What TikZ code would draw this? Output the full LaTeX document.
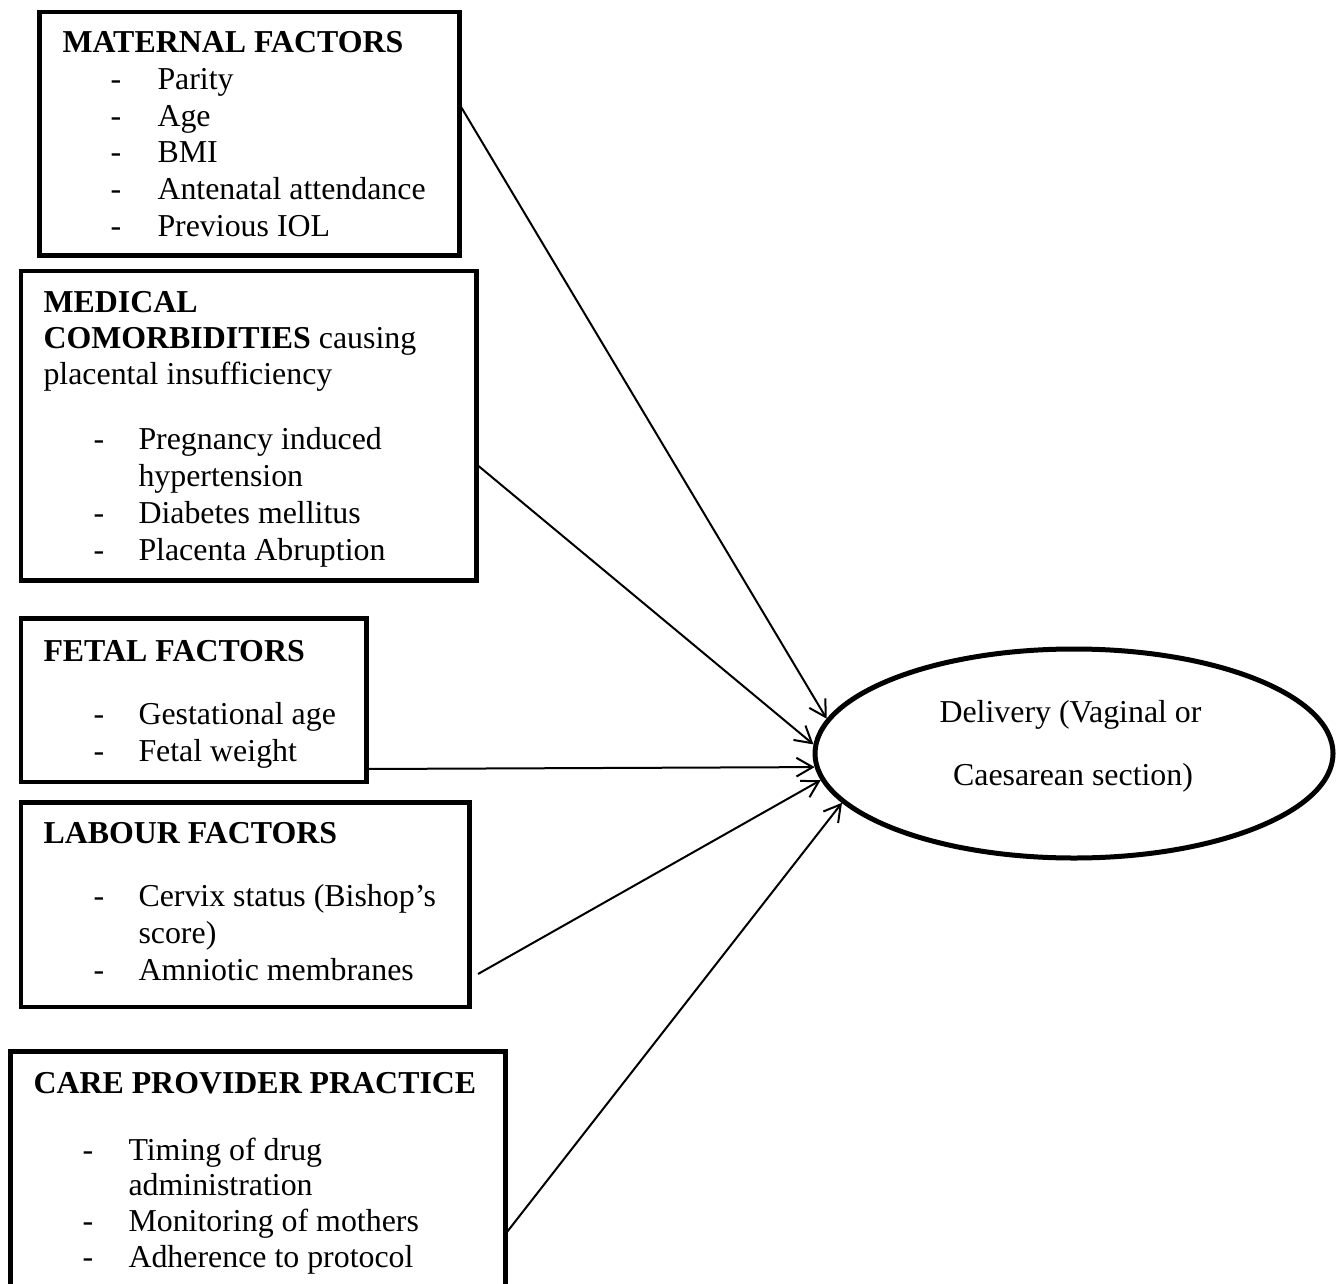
\documentclass[tikz,border=0pt]{standalone}
\usepackage{fontspec}
\setmainfont{Liberation Serif}
\usetikzlibrary{arrows.meta,calc,shapes.geometric}
\begin{document}
\begin{tikzpicture}[x=0.4pt,y=-0.4pt,
  box/.style={draw,line width=1.8pt,rectangle,inner sep=0pt,outer sep=0pt,anchor=north west},
  txt/.style={anchor=base west,inner sep=0pt,font=\fontsize{12.75}{15}\selectfont},
  hd/.style={anchor=base west,inner sep=0pt,font=\fontsize{12.75}{15}\selectfont\bfseries},
  ctr/.style={anchor=base,inner sep=0pt,font=\fontsize{12.75}{15}\selectfont},
  conn/.style={line width=0.8pt,-{Straight Barb[length=6.5pt,width=7.5pt,line width=0.8pt]}}]
\clip (0,0) rectangle (1338,1284);
\fill[white] (0,0) rectangle (1338,1284);

% boxes
\node[box,minimum width=168pt,minimum height=97.4pt] (m1) at (39.5,12) {};
\node[box,minimum width=182.2pt,minimum height=123.8pt] (m2) at (21,271) {};
\node[box,minimum width=138.2pt,minimum height=65.4pt] (m3) at (21,618.5) {};
\node[box,minimum width=179.4pt,minimum height=81.8pt] (m4) at (21,802.5) {};
\node[box,minimum width=198pt,minimum height=99.4pt] (m5) at (10.5,1051.5) {};

% ellipse
\node[ellipse,draw,line width=2pt,minimum width=207.2pt,minimum height=83.6pt,inner sep=0pt] (del) at (1074,753.5) {};
\node[ctr] (d1) at (1070.5,722) {Delivery (Vaginal or};
\node[ctr] (d2) at (1073,785) {Caesarean section)};

% box 1 text
\node[hd] (h1) at (62,53) {MATERNAL FACTORS};
\node[txt] (a1) at (110,90) {-};  \node[txt] (b1) at (157,90) {Parity};
\node[txt] (a2) at (110,127) {-}; \node[txt] (b2) at (157,127) {Age};
\node[txt] (a3) at (110,163) {-}; \node[txt] (b3) at (157,163) {BMI};
\node[txt] (a4) at (110,200) {-}; \node[txt] (b4) at (157,200) {Antenatal attendance};
\node[txt] (a5) at (110,237) {-}; \node[txt] (b5) at (157,237) {Previous IOL};

% box 2 text
\node[hd] (h2) at (43,313) {MEDICAL};
\node[txt] (h2b) at (43,349) {\textbf{COMORBIDITIES} causing};
\node[txt] (h2c) at (43,385) {placental insufficiency};
\node[txt] (c1) at (93,449) {-}; \node[txt] (e1) at (138,449) {Pregnancy induced};
\node[txt] (e1b) at (138,486) {hypertension};
\node[txt] (c2) at (93,523) {-}; \node[txt] (e2) at (138,523) {Diabetes mellitus};
\node[txt] (c3) at (93,560) {-}; \node[txt] (e3) at (138,560) {Placenta Abruption};

% box 3 text
\node[hd] (h3) at (43,661) {FETAL FACTORS};
\node[txt] (f1) at (93,724) {-}; \node[txt] (g1) at (138,724) {Gestational age};
\node[txt] (f2) at (93,761) {-}; \node[txt] (g2) at (138,761) {Fetal weight};

% box 4 text
\node[hd] (h4) at (43,843) {LABOUR FACTORS};
\node[txt] (k1) at (93,906) {-}; \node[txt] (l1) at (138,906) {Cervix status (Bishop’s};
\node[txt] (l1b) at (138,943) {score)};
\node[txt] (k2) at (93,980) {-}; \node[txt] (l2) at (138,980) {Amniotic membranes};

% box 5 text
\node[hd] (h5) at (33,1093) {CARE PROVIDER PRACTICE};
\node[txt] (p1) at (82,1160) {-}; \node[txt] (q1) at (128,1160) {Timing of drug};
\node[txt] (q1b) at (128,1195) {administration};
\node[txt] (p2) at (82,1231) {-}; \node[txt] (q2) at (128,1231) {Monitoring of mothers};
\node[txt] (p3) at (82,1267) {-}; \node[txt] (q3) at (128,1267) {Adherence to protocol};

% connectors
\draw[conn] ($(m1.north east)+(1,94)$) -- (del.172);
\draw[conn] ($(m2.north east)+(2,195)$) -- (del.178.6);
\draw[conn] ($(m3.north east)+(1,150.5)$) -- (del.183.2);
\draw[conn] ($(m4.north east)+(8.5,171.5)$) -- (del.186.9);
\draw[conn] ($(m5.north east)+(1.5,180.5)$) -- (del.192);
\end{tikzpicture}
\end{document}
